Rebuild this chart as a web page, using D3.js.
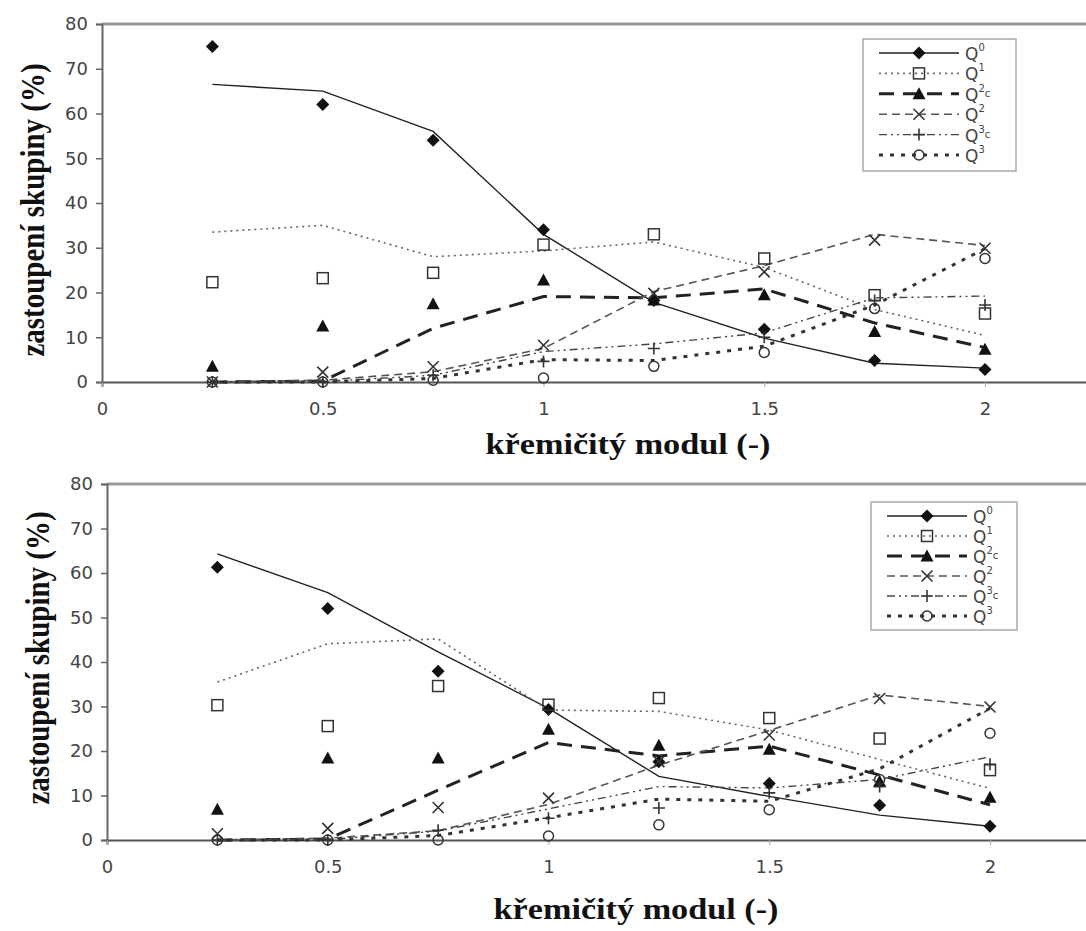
<!DOCTYPE html>
<meta charset="utf-8">
<html>
<head>
    <title>Q skupiny</title>
</head>
<style type="text/css">
    body { margin: 0; background: #fff; }
    .tick text { font-family: "DejaVu Sans", sans-serif; font-size: 18px; fill: #444; }
    .title { font-family: "Liberation Serif", "Times New Roman", serif; font-weight: bold; font-size: 29px; fill: #111; }
    .leg text { font-family: "DejaVu Sans", sans-serif; font-size: 17px; fill: #444; }
</style>
<script src="https://cdn.jsdelivr.net/npm/d3@7/dist/d3.min.js"></script>
<body>
<script type="text/javascript">
// x values (křemičitý modul)
var modul = [0.25, 0.5, 0.75, 1, 1.25, 1.5, 1.75, 2]
var xTicks = [0, 0.5, 1, 1.5, 2]
var yTicks = [0, 10, 20, 30, 40, 50, 60, 70, 80]

// series names (label, sup, sub)
var names = [["Q", "0", ""], ["Q", "1", ""], ["Q", "2", "c"], ["Q", "2", ""], ["Q", "3", "c"], ["Q", "3", ""]]

// top chart - measured points
var topQ0 = [75, 62, 54, 34, 18.2, 11.8, 4.8, 2.8]
var topQ1 = [22.3, 23.2, 24.4, 30.7, 33, 27.6, 19.4, 15.3]
var topQ2c = [3.5, 12.5, 17.5, 22.8, 18.3, 19.5, 11.3, 7.3]
var topQ2 = [0, 2.2, 3.4, 8.2, 19.8, 24.6, 31.7, 29.9]
var topQ3c = [0, 0, 1.5, 4.6, 7.5, 10, 18.2, 17.2]
var topQ3 = [0, 0, 0.4, 0.9, 3.5, 6.6, 16.4, 27.6]
// top chart - model lines
var topQ0fit = [66.5, 65, 56, 33, 17.8, 9.8, 4.2, 3.1]
var topQ1fit = [33.5, 35, 28, 29.3, 31.3, 25.6, 16.2, 10.4]
var topQ2cfit = [0, 0.2, 12, 19.1, 18.8, 20.8, 13.2, 7.7]
var topQ2fit = [0, 0.4, 2.3, 7.5, 20.2, 26, 33, 30.5]
var topQ3cfit = [0, 0.1, 1.5, 6.8, 8.5, 11, 18.8, 19.2]
var topQ3fit = [0, 0, 0.8, 5, 4.8, 8, 17.2, 29.8]

// bottom chart - measured points
var botQ0 = [61.3, 52, 37.9, 29.3, 17.6, 12.7, 7.8, 3.1]
var botQ1 = [30.3, 25.6, 34.6, 30.4, 31.9, 27.4, 22.8, 15.7]
var botQ2c = [6.9, 18.4, 18.4, 24.9, 21.3, 20.4, 13.2, 9.6]
var botQ2 = [1.4, 2.6, 7.3, 9.4, 17.6, 23.6, 31.8, 29.9]
var botQ3c = [0, 0, 2.2, 4.9, 7.2, 10.6, 12, 17]
var botQ3 = [0, 0, 0, 0.9, 3.4, 6.8, 13.6, 24]
// bottom chart - model lines
var botQ0fit = [64.3, 55.6, 42.3, 29.6, 14.3, 9.8, 5.6, 3.1]
var botQ1fit = [35.5, 44.1, 45.2, 29.2, 28.9, 24.7, 18.1, 11.6]
var botQ2cfit = [0, 0.2, 11.2, 21.9, 18.9, 21.1, 14.6, 7.9]
var botQ2fit = [0, 0.4, 2.1, 8, 16.8, 24.6, 32.6, 30]
var botQ3cfit = [0, 0.1, 2, 7, 12, 11.7, 13.6, 18.7]
var botQ3fit = [0, 0, 1, 5, 9.2, 8.7, 16, 29.6]

var styles = [
    {stroke: "#222", width: 1.4, dash: null, marker: "diamond"},
    {stroke: "#666", width: 1.6, dash: "2,4", marker: "square"},
    {stroke: "#222", width: 3, dash: "15,9", marker: "triangle"},
    {stroke: "#555", width: 1.6, dash: "8,5", marker: "cross"},
    {stroke: "#444", width: 1.4, dash: "8,4,2,4,2,4", marker: "plus"},
    {stroke: "#333", width: 3, dash: "4,7", marker: "circle"}
]

var svg = d3.select("body").append("svg")
    .attr("width", 1086)
    .attr("height", 931)

function marker(sel, type){
    if (type == "diamond"){
        sel.append("path").attr("d", "M0,-6.5L6.5,0L0,6.5L-6.5,0Z").attr("fill", "#111")
    } else if (type == "square"){
        sel.append("rect").attr("x", -5.5).attr("y", -5.5).attr("width", 11).attr("height", 11)
           .attr("fill", "none").attr("stroke", "#333").attr("stroke-width", 1.5)
    } else if (type == "triangle"){
        sel.append("path").attr("d", "M0,-6.5L6.5,5.5L-6.5,5.5Z").attr("fill", "#111")
    } else if (type == "cross"){
        sel.append("path").attr("d", "M-5.5,-5.5L5.5,5.5M-5.5,5.5L5.5,-5.5").attr("stroke", "#333").attr("stroke-width", 1.6)
    } else if (type == "plus"){
        sel.append("path").attr("d", "M-6,0L6,0M0,-6L0,6").attr("stroke", "#333").attr("stroke-width", 1.6)
    } else {
        sel.append("circle").attr("r", 5).attr("fill", "none").attr("stroke", "#333").attr("stroke-width", 1.5)
    }
}

function drawChart(cfg){
    var x = d3.scaleLinear().domain([0, 2.5]).range([cfg.left, cfg.left + 2.5 * 441.5])
    var y = d3.scaleLinear().domain([0, 80]).range([cfg.bottom, cfg.top])
    var g = svg.append("g")

    // top frame line
    g.append("line").attr("x1", cfg.left).attr("x2", 1086)
     .attr("y1", cfg.top).attr("y2", cfg.top)
     .attr("stroke", "#999").attr("stroke-width", 3)

    var ya = g.append("g").attr("transform", "translate(" + cfg.left + ",0)")
        .call(d3.axisLeft(y).tickValues(yTicks).tickSize(6).tickPadding(8))
    ya.select(".domain").attr("stroke", "#666").attr("stroke-width", 2)
    ya.selectAll(".tick line").attr("stroke", "#666").attr("stroke-width", 1.5)

    var xa = g.append("g").attr("transform", "translate(0," + cfg.bottom + ")")
        .call(d3.axisBottom(x).tickValues(xTicks).tickSize(5).tickPadding(15).tickFormat(d3.format("")))
    xa.select(".domain").attr("stroke", "#555").attr("stroke-width", 2)
    xa.selectAll(".tick line").attr("stroke", "#aaa")

    var line = d3.line().x((d, i) => x(modul[i])).y(d => y(d))

    cfg.fits.forEach((f, k) => {
        var s = styles[k]
        g.append("path").datum(f)
         .attr("d", line)
         .attr("fill", "none")
         .attr("stroke", s.stroke)
         .attr("stroke-width", s.width)
         .attr("stroke-dasharray", s.dash)
    })
    cfg.pts.forEach((p, k) => {
        g.selectAll(".m" + k).data(p).enter().append("g")
         .attr("class", "m" + k)
         .attr("transform", (d, i) => "translate(" + x(modul[i]) + "," + y(d) + ")")
         .each(function(){ marker(d3.select(this), styles[k].marker) })
    })

    g.append("text").attr("class", "title")
     .attr("transform", "translate(" + cfg.ytx + "," + cfg.yty + ") scale(1.18,1) rotate(-90)")
     .attr("text-anchor", "middle").attr("dy", "0.35em")
     .text("zastoupení skupiny (%)")
    g.append("text").attr("class", "title")
     .attr("transform", "translate(" + cfg.xtx + "," + cfg.xty + ") scale(1.18,1)")
     .attr("text-anchor", "middle").attr("dy", "0.35em")
     .text("křemičitý modul (-)")

    // legend
    var lg = g.append("g").attr("class", "leg")
    lg.append("rect").attr("x", cfg.lx).attr("y", cfg.ly)
      .attr("width", cfg.lw).attr("height", cfg.lh)
      .attr("fill", "#fff").attr("stroke", "#aaa").attr("stroke-width", 1.5)
    names.forEach((n, k) => {
        var s = styles[k]
        var ry = cfg.ly + 14 + k * cfg.lstep
        lg.append("line").attr("x1", cfg.lx + 16).attr("x2", cfg.lx + 96)
          .attr("y1", ry).attr("y2", ry)
          .attr("stroke", s.stroke).attr("stroke-width", s.width).attr("stroke-dasharray", s.dash)
        var m = lg.append("g").attr("transform", "translate(" + (cfg.lx + 56) + "," + ry + ")")
        marker(m, s.marker)
        var t = lg.append("text").attr("x", cfg.lx + 102).attr("y", ry + 7)
        t.append("tspan").text(n[0])
        t.append("tspan").attr("dy", -9).attr("font-size", "10px").text(n[1])
        if (n[2]) t.append("tspan").attr("dy", 5).attr("font-size", "10px").text(n[2])
    })
}

drawChart({left: 102, top: 24, bottom: 382,
    pts: [topQ0, topQ1, topQ2c, topQ2, topQ3c, topQ3],
    fits: [topQ0fit, topQ1fit, topQ2cfit, topQ2fit, topQ3cfit, topQ3fit],
    ytx: 32, yty: 210, xtx: 628, xty: 444,
    lx: 863, ly: 39, lw: 153, lh: 132, lstep: 20.4})

drawChart({left: 107, top: 484, bottom: 840,
    pts: [botQ0, botQ1, botQ2c, botQ2, botQ3c, botQ3],
    fits: [botQ0fit, botQ1fit, botQ2cfit, botQ2fit, botQ3cfit, botQ3fit],
    ytx: 37, yty: 658, xtx: 636, xty: 909,
    lx: 871, ly: 502, lw: 146, lh: 128, lstep: 20})
</script>
</body>
</html>
